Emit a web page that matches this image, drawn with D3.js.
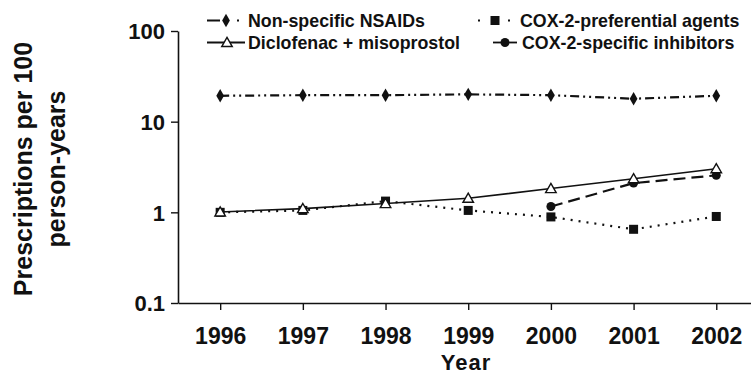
<!DOCTYPE html>
<html lang="en">
<head>
<meta charset="UTF-8">
<title>NSAID prescriptions</title>
<script src="https://d3js.org/d3.v7.min.js"></script>
<style>
  body { margin: 0; background: #fff; }
  svg text { font-family: "Liberation Sans", Arial, sans-serif; font-weight: bold; fill: #111; }
</style>
</head>
<body>
<svg width="751" height="376"></svg>
<script>
// data
const years = [1996, 1997, 1998, 1999, 2000, 2001, 2002];
const nonSpecific = [19.3, 19.6, 19.6, 20.0, 19.6, 17.9, 19.3];
const diclofenac = [1.01, 1.10, 1.25, 1.43, 1.83, 2.35, 3.03];
const cox2Pref = [1.0, 1.05, 1.33, 1.05, 0.89, 0.65, 0.90];
const cox2Specific = [null, null, null, null, 1.16, 2.10, 2.56];
const yTicks = [0.1, 1, 10, 100];

const series = [
  { name: "Non-specific NSAIDs", values: nonSpecific, dash: "9,4,2,4,2,4", marker: "diamond" },
  { name: "COX-2-preferential agents", values: cox2Pref, dash: "2,6", marker: "square" },
  { name: "Diclofenac + misoprostol", values: diclofenac, dash: null, marker: "triangle" },
  { name: "COX-2-specific inhibitors", values: cox2Specific, dash: "12,6", marker: "circle" }
];

// legend layout: sample line, marker spot, text start
const legendLayout = [
  { x1: 207, x2: 240, mx: 226, tx: 248, y: 20.5, dash: "13,17,2,10" },
  { x1: 478, x2: 511, mx: 495, tx: 520, y: 20.5, dash: "2,13,2,13,2" },
  { x1: 207, x2: 245, mx: 227, tx: 248, y: 42.5, dash: null },
  { x1: 493, x2: 517, mx: 505, tx: 522, y: 42.5, dash: null }
];

const svg = d3.select("svg");

const x = d3.scaleLinear().domain([1995.49, 2002.42]).range([178, 751]);
const y = d3.scaleLog().domain([0.1, 100]).range([303, 31]);

// axes
const xAxis = svg.append("g")
  .attr("transform", "translate(0,303)")
  .call(d3.axisBottom(x).tickValues(years).tickFormat(d3.format("d")).tickSizeInner(7).tickSizeOuter(0).tickPadding(18));
const yAxis = svg.append("g")
  .attr("transform", "translate(178,0)")
  .call(d3.axisLeft(y).tickValues(yTicks).tickFormat(d => d === 0.1 ? "0.1" : d3.format("d")(d)).tickSizeInner(7).tickSizeOuter(0).tickPadding(6));

[xAxis, yAxis].forEach(g => {
  g.select(".domain").attr("stroke", "#111").attr("stroke-width", 1.6);
  g.selectAll(".tick line").attr("stroke", "#111").attr("stroke-width", 1.4);
  g.selectAll(".tick text").attr("fill", "#111");
});
xAxis.selectAll(".tick text").style("font-size", "23px").attr("dy", "0.71em");
yAxis.selectAll(".tick text").style("font-size", "22px").attr("dy", "0.36em");

// axis titles
svg.append("text")
  .attr("x", 466).attr("y", 370)
  .attr("text-anchor", "middle")
  .style("font-size", "22px").style("letter-spacing", "1px")
  .text("Year");

const yTitle = svg.append("text")
  .attr("transform", "translate(32,169) rotate(-90)")
  .attr("text-anchor", "middle")
  .style("font-size", "25px");
yTitle.append("tspan").attr("x", 0).attr("dy", 0).text("Prescriptions per 100");
yTitle.append("tspan").attr("x", 0).attr("dy", 33).text("person-years");

// marker drawing
function drawMarker(g, type, cx, cy) {
  if (type === "diamond") {
    g.append("path").attr("d", d3.symbol(d3.symbolDiamond, 52)()).attr("transform", `translate(${cx},${cy})`).attr("fill", "#111");
  } else if (type === "square") {
    g.append("rect").attr("x", cx - 4.5).attr("y", cy - 4.5).attr("width", 9).attr("height", 9).attr("fill", "#111");
  } else if (type === "circle") {
    g.append("circle").attr("cx", cx).attr("cy", cy).attr("r", 4.5).attr("fill", "#111");
  } else if (type === "triangle") {
    g.append("path").attr("d", d3.symbol(d3.symbolTriangle, 48)()).attr("transform", `translate(${cx},${cy + 1})`)
      .attr("fill", "#fff").attr("stroke", "#111").attr("stroke-width", 1.4);
  }
}

const line = d3.line()
  .defined(d => d.v !== null)
  .x(d => x(d.year))
  .y(d => y(d.v));

// draw order so that triangles sit on top of squares
const drawOrder = [series[0], series[1], series[3], series[2]];
drawOrder.forEach(s => {
  const pts = years.map((yr, i) => ({ year: yr, v: s.values[i] }));
  svg.append("path")
    .datum(pts)
    .attr("d", line)
    .attr("fill", "none")
    .attr("stroke", "#111")
    .attr("stroke-width", s.dash ? 2.2 : 1.6)
    .attr("stroke-dasharray", s.dash);
  const g = svg.append("g");
  pts.filter(p => p.v !== null).forEach(p => drawMarker(g, s.marker, x(p.year), y(p.v)));
});

// legend
series.forEach((s, i) => {
  const p = legendLayout[i];
  const g = svg.append("g");
  g.append("line")
    .attr("x1", p.x1).attr("x2", p.x2)
    .attr("y1", p.y).attr("y2", p.y)
    .attr("stroke", "#111").attr("stroke-width", 1.8)
    .attr("stroke-dasharray", p.dash);
  drawMarker(g, s.marker, p.mx, p.y);
  g.append("text")
    .attr("x", p.tx).attr("y", p.y)
    .attr("dy", "0.36em")
    .style("font-size", "17.8px")
    .text(s.name);
});
</script>
</body>
</html>
